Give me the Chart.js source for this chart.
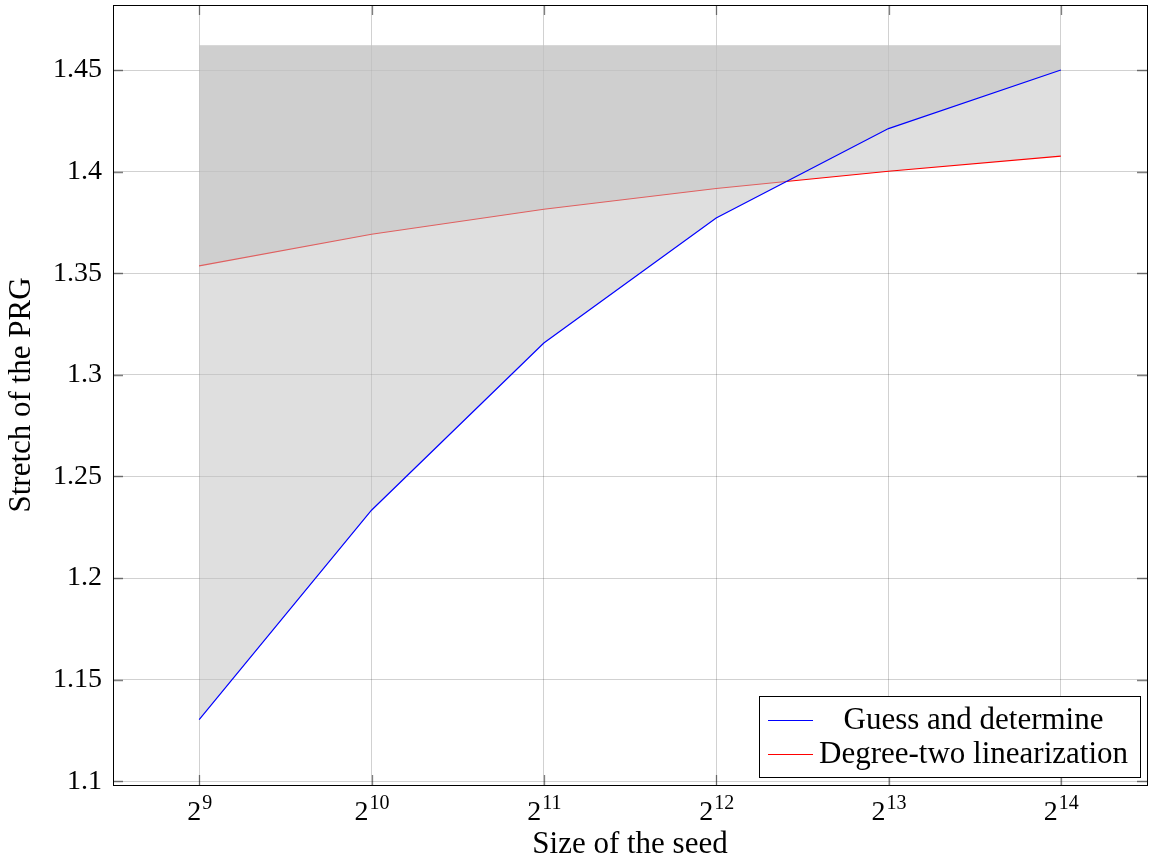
<!DOCTYPE html>
<html>
<head>
<meta charset="utf-8">
<script src="https://cdn.jsdelivr.net/npm/chart.js@4.4.0/dist/chart.umd.min.js"></script>
<style>
  html, body { margin: 0; padding: 0; background: #fff; }
  #wrap { width: 1151px; height: 864px; position: relative; }
</style>
</head>
<body>
<div id="wrap"><canvas id="chart"></canvas></div>
<script>
// datos (eje x = exponente de 2)
const exponentes = [9, 10, 11, 12, 13, 14];
const guessDetermine = [1.1304, 1.2334, 1.3157, 1.3772, 1.4212, 1.4500];
const degreeTwo = [1.3536, 1.3692, 1.3815, 1.3917, 1.4002, 1.4076];
const yTicks = [1.1, 1.15, 1.2, 1.25, 1.3, 1.35, 1.4, 1.45];
const xBase = '2';
const etiquetas = ['Guess and determine', 'Degree-two linearization'];
const tituloX = 'Size of the seed';
const tituloY = 'Stretch of the PRG';
const techoRelleno = 1.4622;
const rangoX = [8.5, 14.5];
const rangoY = [1.0982, 1.482];

const familia = '"Liberation Serif", "DejaVu Serif", serif';
const fuenteTicks = '28px ' + familia;
const fuenteLeyenda = '31px ' + familia;
const fuenteExp = '20px ' + familia;
const relleno = 'rgba(191, 191, 191, 0.5)';

document.addEventListener('DOMContentLoaded', () => {
  renderizarGrafica();
});

function aPuntos(valores) {
  return exponentes.map((e, i) => ({ x: e, y: valores[i] }));
}

const decoracion = {
  id: 'decoracion',
  afterDraw(chart) {
    const ctx = chart.ctx;
    const area = chart.chartArea;
    const sx = chart.scales.x;
    const sy = chart.scales.y;
    ctx.save();

    // marcas hacia dentro en los cuatro lados
    ctx.strokeStyle = 'rgba(0,0,0,0.5)';
    ctx.lineWidth = 1.3;
    const largo = 10;
    ctx.beginPath();
    exponentes.forEach(e => {
      const px = Math.round(sx.getPixelForValue(e)) + 0.5;
      ctx.moveTo(px, area.bottom); ctx.lineTo(px, area.bottom - largo);
      ctx.moveTo(px, area.top); ctx.lineTo(px, area.top + largo);
    });
    yTicks.forEach(v => {
      const py = Math.round(sy.getPixelForValue(v)) + 0.5;
      ctx.moveTo(area.left, py); ctx.lineTo(area.left + largo, py);
      ctx.moveTo(area.right, py); ctx.lineTo(area.right - largo, py);
    });
    ctx.stroke();

    // marco del area
    ctx.strokeStyle = '#000';
    ctx.lineWidth = 1;
    ctx.strokeRect(Math.round(area.left) + 0.5, Math.round(area.top) + 0.5,
      Math.round(area.right - area.left), Math.round(area.bottom - area.top));

    // etiquetas del eje x con exponente
    ctx.fillStyle = '#000';
    ctx.textBaseline = 'alphabetic';
    ctx.textAlign = 'left';
    exponentes.forEach(e => {
      ctx.font = fuenteTicks;
      const wb = ctx.measureText(xBase).width;
      ctx.font = fuenteExp;
      const we = ctx.measureText(String(e)).width;
      const px = sx.getPixelForValue(e);
      const x0 = px - (wb + we) / 2;
      const base = area.bottom + 35;
      ctx.font = fuenteTicks;
      ctx.fillText(xBase, x0, base);
      ctx.font = fuenteExp;
      ctx.fillText(String(e), x0 + wb + 1, base - 11);
    });

    // leyenda
    ctx.font = fuenteLeyenda;
    const conjuntos = chart.data.datasets;
    const maxW = Math.max(...conjuntos.map(d => ctx.measureText(d.label).width));
    const boxW = 9 + 45 + 6 + maxW + 12;
    const boxH = 81;
    const x2 = area.right - 7;
    const y2 = area.bottom - 8;
    const x1 = x2 - boxW;
    const y1 = y2 - boxH;
    ctx.fillStyle = '#fff';
    ctx.fillRect(x1, y1, boxW, boxH);
    ctx.strokeStyle = '#000';
    ctx.lineWidth = 1;
    ctx.strokeRect(Math.round(x1) + 0.5, Math.round(y1) + 0.5, Math.round(boxW), boxH);
    const centroTexto = x1 + 9 + 45 + 6 + maxW / 2;
    conjuntos.forEach((d, i) => {
      const fy = y1 + 24 + i * 34;
      ctx.strokeStyle = d.borderColor;
      ctx.lineWidth = 1.2;
      ctx.beginPath();
      ctx.moveTo(x1 + 9, fy + 0.5);
      ctx.lineTo(x1 + 54, fy + 0.5);
      ctx.stroke();
      ctx.fillStyle = '#000';
      ctx.textAlign = 'center';
      ctx.textBaseline = 'middle';
      ctx.fillText(d.label, centroTexto, fy + 1);
    });

    ctx.restore();
  }
};

function renderizarGrafica() {
  const ctx = document.getElementById('chart').getContext('2d');

  const chartData = {
    datasets: [
      {
        label: etiquetas[0],
        data: aPuntos(guessDetermine),
        borderColor: '#0000ff',
        borderWidth: 1.2,
        backgroundColor: relleno,
        fill: { value: techoRelleno },
        pointRadius: 0,
        tension: 0
      },
      {
        label: etiquetas[1],
        data: aPuntos(degreeTwo),
        borderColor: '#ff0000',
        borderWidth: 1.2,
        backgroundColor: relleno,
        fill: { value: techoRelleno },
        pointRadius: 0,
        tension: 0
      }
    ]
  };

  const chartOptions = {
    responsive: true,
    maintainAspectRatio: false,
    animation: false,
    layout: { autoPadding: false, padding: { top: 5, right: 4, left: 0, bottom: 0 } },
    scales: {
      x: {
        type: 'linear',
        min: rangoX[0],
        max: rangoX[1],
        afterBuildTicks: s => { s.ticks = exponentes.map(v => ({ value: v })); },
        afterFit: s => { s.height = 79; s.paddingLeft = 0; s.paddingRight = 0; },
        ticks: { display: false },
        grid: { color: 'rgba(0,0,0,0.18)', lineWidth: 1, drawTicks: false },
        border: { display: false },
        title: {
          display: true,
          text: tituloX,
          color: '#000',
          font: { family: familia, size: 31 },
          padding: { top: 0, bottom: 1 }
        }
      },
      y: {
        type: 'linear',
        min: rangoY[0],
        max: rangoY[1],
        afterBuildTicks: s => { s.ticks = yTicks.map(v => ({ value: v })); },
        afterFit: s => { s.width = 113; s.paddingTop = 0; s.paddingBottom = 0; },
        ticks: {
          color: '#000',
          padding: 11,
          font: { family: familia, size: 28 },
          callback: v => String(v)
        },
        grid: { color: 'rgba(0,0,0,0.18)', lineWidth: 1, drawTicks: false },
        border: { display: false },
        title: {
          display: true,
          text: tituloY,
          color: '#000',
          font: { family: familia, size: 31 },
          padding: { top: 3, bottom: 0 }
        }
      }
    },
    plugins: {
      legend: { display: false },
      tooltip: { enabled: false }
    }
  };

  new Chart(ctx, {
    type: 'line',
    data: chartData,
    options: chartOptions,
    plugins: [decoracion]
  });
}
</script>
</body>
</html>
